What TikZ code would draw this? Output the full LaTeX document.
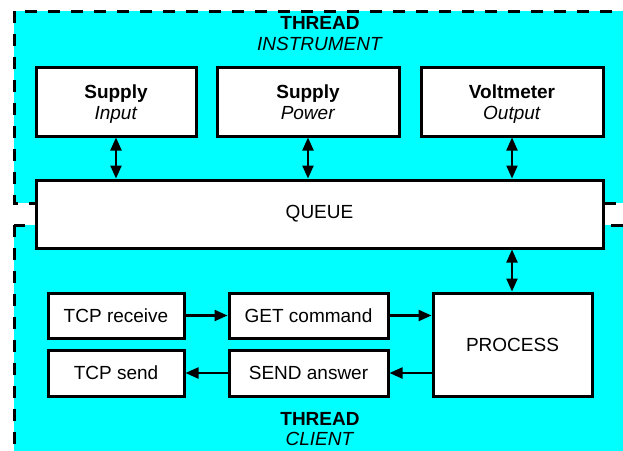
\documentclass[tikz,border=0pt]{standalone}
\usepackage{fontspec}
\setmainfont{Liberation Sans}
\usetikzlibrary{arrows.meta,calc}
\definecolor{threadcyan}{RGB}{0,255,255}
\newcommand{\toprule}{\rule{0pt}{20.7pt}}
\tikzset{
  threadarea/.style={fill=threadcyan, draw=black, line width=3pt, dash pattern=on 12pt off 11pt},
  blockbox/.style={draw=black, fill=white, line width=3pt, align=center, inner sep=0pt,
    font=\fontsize{19}{21}\selectfont},
  tip/.tip={Triangle[length=13pt,width=11pt]},
  flow/.style={line width=2.2pt, -tip},
  dualflow/.style={line width=2.2pt, tip-tip},
  threadlabel/.style={align=center, font=\fontsize{19}{21}\selectfont, inner sep=0pt}
}
\begin{document}
\begin{tikzpicture}[x=1pt,y=-1pt]
\useasboundingbox (0,0) rectangle (623,450);

% thread regions (they run past the right and bottom edges)
\path[threadarea] (14,11) rectangle (650,203);
\path[threadarea] (14,225) rectangle (650,480);

\node[threadlabel] (tinst) at (320,23) {\textbf{THREAD}};
\node[threadlabel] (tinstname) at (320,44) {\textit{INSTRUMENT}};
\node[threadlabel] (tcli) at (320,419) {\textbf{THREAD}};
\node[threadlabel] (tcliname) at (320,439) {\textit{CLIENT}};

% instrument blocks
\node[blockbox, minimum width=160pt, minimum height=69pt] (sin) at (116,101.5)
  {\textbf{Supply}\toprule\\\textit{Input}\strut};
\node[blockbox, minimum width=182pt, minimum height=69pt] (spw) at (308,101.5)
  {\textbf{Supply}\toprule\\\textit{Power}\strut};
\node[blockbox, minimum width=182pt, minimum height=69pt] (vout) at (512,101.5)
  {\textbf{Voltmeter}\toprule\\\textit{Output}\strut};

% shared queue
\node[blockbox, minimum width=567pt, minimum height=68pt] (queue) at (319.5,214) {QUEUE};

% client blocks
\node[blockbox, minimum width=136pt, minimum height=45pt] (trecv) at (116,315.5) {TCP receive};
\node[blockbox, minimum width=159pt, minimum height=45pt] (getc) at (308.5,315.5) {GET command};
\node[blockbox, minimum width=159pt, minimum height=103pt] (proc) at (512.5,344.5) {PROCESS};
\node[blockbox, minimum width=136pt, minimum height=46pt] (tsend) at (116,373) {TCP send};
\node[blockbox, minimum width=159pt, minimum height=46pt] (sans) at (308.5,373) {SEND answer};

% connectors
\draw[dualflow] (sin.south) -- (sin.south |- queue.north);
\draw[dualflow] (spw.south) -- (spw.south |- queue.north);
\draw[dualflow] (vout.south) -- (vout.south |- queue.north);
\draw[dualflow] (proc.north -| vout.south) -- (vout.south |- queue.south);
\draw[flow] (trecv.east) -- (getc.west);
\draw[flow] (getc.east) -- (getc.east -| proc.west);
\draw[flow] (proc.west |- sans.east) -- (sans.east);
\draw[flow] (sans.west) -- (tsend.east);
\end{tikzpicture}
\end{document}
